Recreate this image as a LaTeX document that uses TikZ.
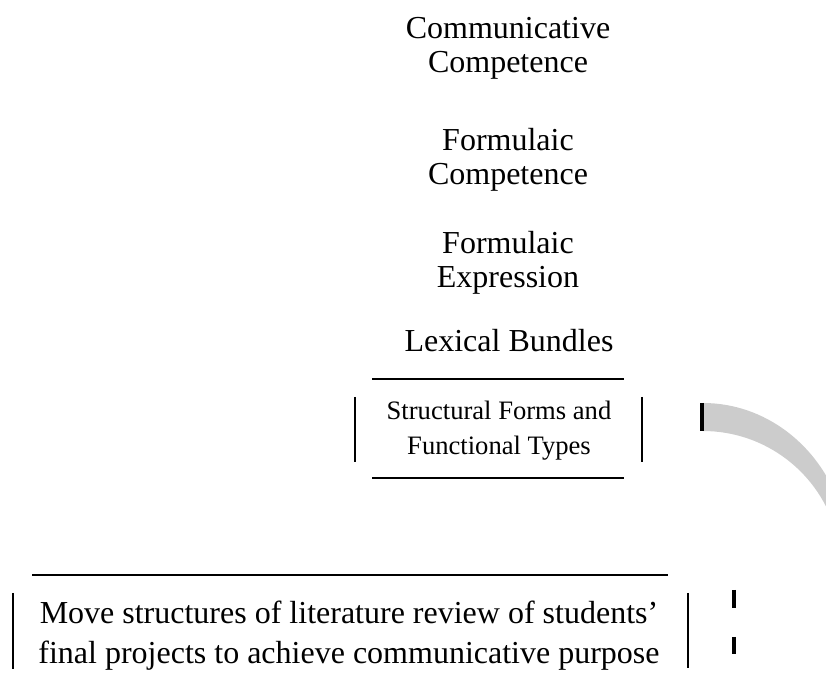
\documentclass[tikz,border=0pt]{standalone}
\usepackage{fontspec}
\setmainfont{Liberation Serif}
\begin{document}
\begin{tikzpicture}[x=0.5pt,y=0.5pt]
\tikzstyle{every node}+=[inner sep=0pt,align=center,font=\fontsize{16}{17}\selectfont]
\tikzstyle{rule}=[black,line width=1.3pt]
\useasboundingbox (0,0) rectangle (826,-684);
\draw (508,-48) node (comm) {Communicative\\Competence};
\draw (508,-160) node (fcomp) {Formulaic\\Competence};
\draw (508,-263) node (fexpr) {Formulaic\\Expression};
\draw (509,-341) node (lex) {Lexical Bundles};
\draw (499,-431) node (sft) [font=\fontsize{13.3}{17.5}\selectfont] {Structural Forms and\\Functional Types};
\draw [rule] (372,-379) -- (624,-379);
\draw [rule] (372,-478) -- (624,-478);
\draw [rule] (355,-397) -- (355,-462);
\draw [rule] (642,-397) -- (642,-462);
\draw (349,-636) node (move) [font=\fontsize{16}{20}\selectfont] {Move structures of literature review of students'\\final projects to achieve communicative purpose};
\draw [rule] (32,-575) -- (668,-575);
\draw [rule] (13,-593) -- (13,-669);
\draw [rule] (688,-593) -- (688,-668);
% curved band on the right, cut off by the page edge
\begin{scope}
\clip (0,0) rectangle (826,-684);
\fill [black!20] (703,-403) arc [start angle=90,end angle=20,x radius=146,y radius=157]
  -- (836.3,-533.3) arc [start angle=15,end angle=90,radius=138] -- cycle;
\end{scope}
\draw [black,line width=1.8pt] (702,-403) -- (702,-431);
\draw [black,line width=1.8pt] (734,-590) -- (734,-608);
\draw [black,line width=1.8pt] (734,-637) -- (734,-654);
\end{tikzpicture}
\end{document}
